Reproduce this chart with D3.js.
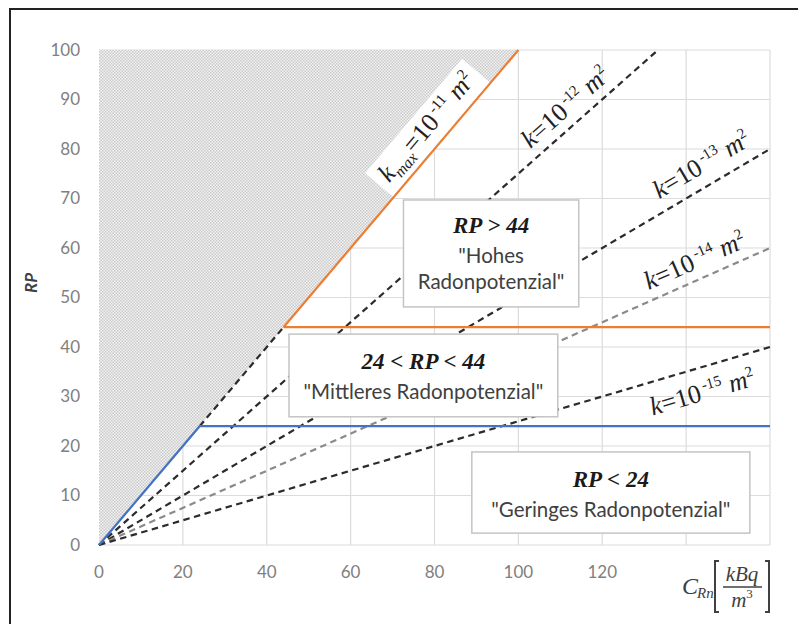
<!DOCTYPE html>
<html><head><meta charset="utf-8">
<script src="https://cdn.jsdelivr.net/npm/d3@7"></script>
<style>body{margin:0;background:#fff}svg{display:block}</style>
</head><body><svg id="c" width="798" height="624"></svg>
<script>
// ---- data ----
const xTicks = [0, 20, 40, 60, 80, 100, 120, 140, 160];
const xTickLabels = ["0", "20", "40", "60", "80", "100", "120", "", ""];
const yTicks = [0, 10, 20, 30, 40, 50, 60, 70, 80, 90, 100];
// dashed permeability lines
const kLines = [
  {name: "k12", pts: [[0, 0], [133.3, 100]], color: "#2b2b2b"},
  {name: "k13", pts: [[0, 0], [160, 80]], color: "#2b2b2b"},
  {name: "k14", pts: [[0, 0], [160, 60]], color: "#8a8a8a"},
  {name: "k15", pts: [[0, 0], [160, 40]], color: "#2b2b2b"},
  {name: "kmid", pts: [[24, 24], [44, 44]], color: "#2b2b2b"}
];
const blueLine = [[0, 0], [24, 24], [160, 24]];
const orangeLine = [[44, 44], [100, 100]];
const orangeH = [[44, 44], [160, 44]];
const hatchArea = [[0, 0], [0, 100], [100, 100]];
// labels: exponent, subscript, centre (data), slope
const kLabels = [
  {exp: "-11", sub: "max", at: [77.9, 84.6], slope: 1},
  {exp: "-12", sub: null, at: [111.1, 88.6], slope: 0.75},
  {exp: "-13", sub: null, at: [143.6, 77.0], slope: 0.5},
  {exp: "-14", sub: null, at: [142.0, 57.6], slope: 0.375},
  {exp: "-15", sub: null, at: [143.8, 31.0], slope: 0.25}
];
const boxes = [
  {title: "RP > 44", lines: ["\"Hohes", "Radonpotenzial\""], x0: 72.6, x1: 114.4, y0: 69.7, y1: 48.1},
  {title: "24 < RP < 44", lines: ["\"Mittleres Radonpotenzial\""], x0: 45.3, x1: 109.4, y0: 42.6, y1: 25.9},
  {title: "RP < 24", lines: ["\"Geringes Radonpotenzial\""], x0: 88.9, x1: 155.2, y0: 18.8, y1: 2.4}
];

// ---- drawing ----
const svg = d3.select("#c");
const x = d3.scaleLinear().domain([0, 160]).range([99, 770]);
const y = d3.scaleLinear().domain([0, 100]).range([545, 50]);

// frame
svg.append("rect").attr("x", 10).attr("y", 9).attr("width", 800).attr("height", 630)
  .attr("fill", "#fff").attr("stroke", "#222").attr("stroke-width", 2);

const defs = svg.append("defs");
const pat = defs.append("pattern").attr("id", "hatch").attr("width", 3).attr("height", 3)
  .attr("patternUnits", "userSpaceOnUse");
pat.append("rect").attr("width", 3).attr("height", 3).attr("fill", "#f2f2f2");
pat.append("rect").attr("x", 0).attr("y", 0).attr("width", 1.5).attr("height", 1.5).attr("fill", "#cbcbcb");
pat.append("rect").attr("x", 1.5).attr("y", 1.5).attr("width", 1.5).attr("height", 1.5).attr("fill", "#cbcbcb");

// grid
const g = svg.append("g");
g.selectAll("line.v").data(xTicks.slice(1)).join("line")
  .attr("x1", d => x(d)).attr("x2", d => x(d)).attr("y1", y(0)).attr("y2", y(100))
  .attr("stroke", "#dcdcdc").attr("stroke-width", 1.2);
g.selectAll("line.h").data(yTicks).join("line")
  .attr("x1", x(0)).attr("x2", x(160)).attr("y1", d => y(d)).attr("y2", d => y(d))
  .attr("stroke", "#dcdcdc").attr("stroke-width", 1.2);

// hatch area
const line = d3.line().x(d => x(d[0])).y(d => y(d[1]));
svg.append("path").attr("d", line(hatchArea) + "Z").attr("fill", "url(#hatch)");

// tick labels
svg.selectAll("text.xt").data(xTicks).join("text")
  .attr("x", d => x(d)).attr("y", 578).attr("text-anchor", "middle")
  .attr("font-family", "Lato, 'Open Sans', sans-serif").attr("font-size", 17).attr("fill", "#808080")
  .text((d, i) => xTickLabels[i]);
svg.selectAll("text.yt").data(yTicks).join("text")
  .attr("x", 80).attr("y", d => y(d)).attr("dy", "0.35em").attr("text-anchor", "end")
  .attr("font-family", "Lato, 'Open Sans', sans-serif").attr("font-size", 17).attr("fill", "#808080")
  .text(d => d);

// y title
svg.append("text").attr("transform", "translate(37,283) rotate(-90)").attr("text-anchor", "middle")
  .attr("font-family", "Lato, sans-serif").attr("font-style", "italic").attr("font-weight", "bold")
  .attr("font-size", 17).attr("fill", "#404040").text("RP");

// dashed lines
svg.selectAll("path.k").data(kLines).join("path")
  .attr("d", d => line(d.pts)).attr("fill", "none").attr("stroke", d => d.color)
  .attr("stroke-width", 2.2).attr("stroke-dasharray", "6.5,4.5");

// colored lines
svg.append("path").attr("d", line(blueLine)).attr("fill", "none").attr("stroke", "#4472c4").attr("stroke-width", 2.2);
svg.append("path").attr("d", line(orangeH)).attr("fill", "none").attr("stroke", "#ed7d31").attr("stroke-width", 2.2);
svg.append("path").attr("d", line(orangeLine)).attr("fill", "none").attr("stroke", "#ed7d31").attr("stroke-width", 2.2);

// k labels
const pxSlope = (y(0) - y(1)) / (x(1) - x(0));
kLabels.forEach((L, i) => {
  const ang = -Math.atan(L.slope * pxSlope) * 180 / Math.PI;
  const lg = svg.append("g").attr("transform", `translate(${x(L.at[0])},${y(L.at[1])}) rotate(${ang})`);
  const t = lg.append("text").attr("text-anchor", "middle").attr("dy", "0.35em")
    .attr("font-family", "'Liberation Serif', 'Times New Roman', serif").attr("font-size", 26).attr("fill", "#222");
  t.append("tspan").attr("font-style", "italic").text("k");
  if (L.sub) t.append("tspan").attr("font-style", "italic").attr("font-size", 16).attr("dy", 6).text(L.sub);
  t.append("tspan").attr("dy", L.sub ? -6 : 0).text("=10");
  t.append("tspan").attr("font-size", 15).attr("dy", -10).text("\u2009" + L.exp);
  t.append("tspan").attr("font-style", "italic").attr("dy", 10).text("\u00a0m");
  t.append("tspan").attr("font-size", 15).attr("dy", -10).text("2");
  if (i === 0) {
    const bb = t.node().getBBox();
    lg.insert("rect", "text").attr("x", bb.x - 8).attr("y", bb.y - 2).attr("width", bb.width + 16)
      .attr("height", bb.height + 4).attr("fill", "#fff");
  }
});

// boxes
boxes.forEach(b => {
  const bx = x(b.x0), by = y(b.y0), bw = x(b.x1) - x(b.x0), bh = y(b.y1) - y(b.y0);
  svg.append("rect").attr("x", bx).attr("y", by).attr("width", bw).attr("height", bh)
    .attr("fill", "#fff").attr("stroke", "#c4c4c4").attr("stroke-width", 1.5);
  const cx = bx + bw / 2;
  const n = b.lines.length;
  const titleY = n === 2 ? by + 33 : by + 35;
  svg.append("text").attr("x", cx).attr("y", titleY).attr("text-anchor", "middle")
    .attr("font-family", "'Liberation Serif', serif").attr("font-style", "italic").attr("font-weight", "bold")
    .attr("font-size", 23).attr("fill", "#1a1a1a").text(b.title);
  b.lines.forEach((s, j) => {
    svg.append("text").attr("x", cx).attr("y", titleY + 30 + j * 26).attr("text-anchor", "middle")
      .attr("font-family", "Lato, 'Open Sans', sans-serif").attr("font-size", 20.5).attr("fill", "#404040").text(s);
  });
});

// x axis title
const xt = svg.append("g").attr("fill", "#404040").attr("font-family", "'Liberation Serif', serif").attr("font-style", "italic");
xt.append("text").attr("x", 682).attr("y", 594).attr("font-size", 24).text("C");
xt.append("text").attr("x", 697).attr("y", 598).attr("font-size", 15).text("Rn");
xt.append("path").attr("d", "M719,561 h-4 v51 h4").attr("fill", "none").attr("stroke", "#404040").attr("stroke-width", 2);
xt.append("path").attr("d", "M765,561 h4 v51 h-4").attr("fill", "none").attr("stroke", "#404040").attr("stroke-width", 2);
xt.append("text").attr("x", 742).attr("y", 581).attr("text-anchor", "middle").attr("font-size", 21).text("kBq");
xt.append("line").attr("x1", 723).attr("x2", 762).attr("y1", 587).attr("y2", 587).attr("stroke", "#404040").attr("stroke-width", 1.3);
const m3 = xt.append("text").attr("x", 742).attr("y", 607).attr("text-anchor", "middle").attr("font-size", 21);
m3.append("tspan").text("m");
m3.append("tspan").attr("font-size", 13).attr("dy", -9).attr("font-style", "normal").text("3");
</script></body></html>
